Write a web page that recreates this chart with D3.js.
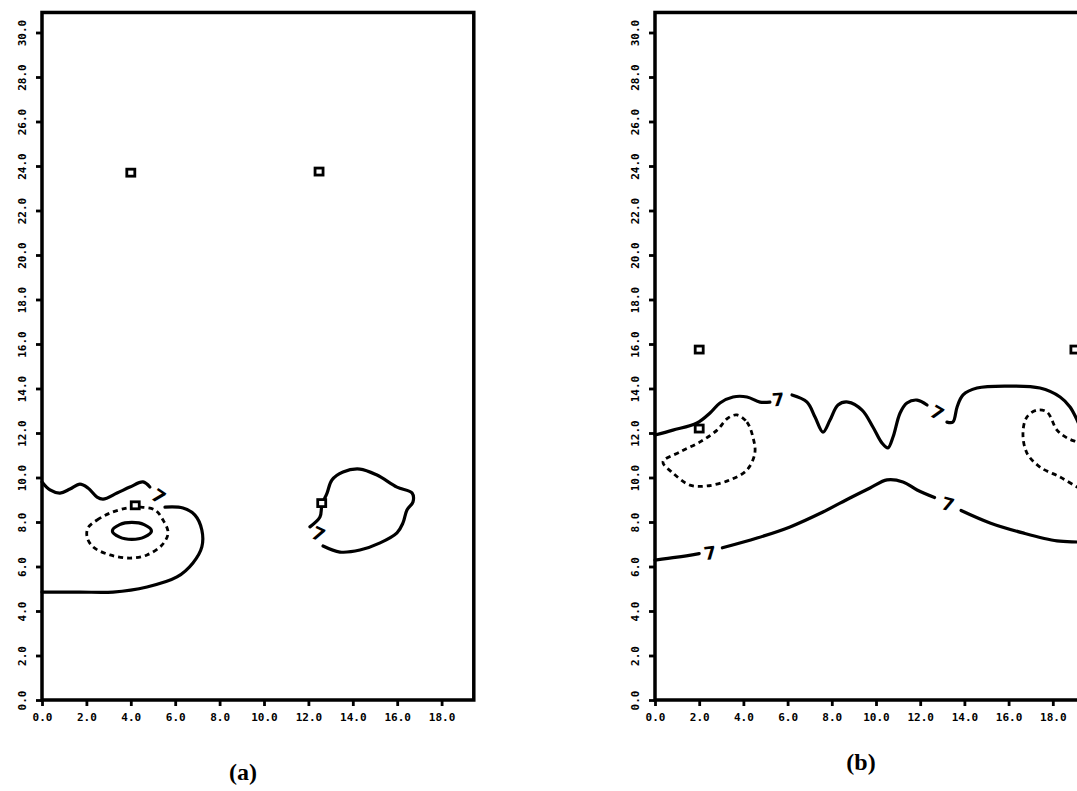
<!DOCTYPE html>
<html>
<head>
<meta charset="utf-8">
<script src="https://cdn.jsdelivr.net/npm/d3@7"></script>
<style>
  body { margin: 0; background: #fff; }
  .tick text { font-family: "DejaVu Sans Mono", monospace; font-weight: bold; font-size: 11px; }
</style>
</head>
<body>
<script>
// axis ticks (both panels)
var xTicks = [0, 2, 4, 6, 8, 10, 12, 14, 16, 18];
var yTicks = [0, 2, 4, 6, 8, 10, 12, 14, 16, 18, 20, 22, 24, 26, 28, 30];

// panel (a) contours
var aSolidOuter = [[0, 9.8], [0.36, 9.44], [0.81, 9.3], [1.26, 9.48], [1.71, 9.7], [2.07, 9.53], [2.48, 9.12],
  [2.75, 9.03], [3.38, 9.3], [3.96, 9.57], [4.55, 9.8], [4.86, 9.57]];
var aSolidOuter2 = [[5.54, 8.67], [6.35, 8.63], [6.89, 8.31], [7.2, 7.64], [7.2, 6.88], [6.8, 6.16],
  [6.08, 5.53], [4.73, 5.08], [3.2, 4.85], [1.71, 4.85], [0, 4.85]];
var aDashed = [[2.07, 7.73], [2.48, 8.09], [3.06, 8.4], [3.83, 8.63], [4.41, 8.67], [5.09, 8.54], [5.45, 8.09],
  [5.68, 7.51], [5.41, 6.97], [4.73, 6.52], [3.96, 6.38], [3.06, 6.52], [2.3, 6.88], [2.03, 7.33]];
var aInner = [[3.17, 7.6], [3.5, 7.88], [4.05, 7.98], [4.6, 7.88], [4.93, 7.6], [4.6, 7.32], [4.05, 7.22], [3.5, 7.32]];
var aRight = [[12.07, 7.78], [12.52, 8.22], [12.61, 8.76], [12.84, 9.3], [13.06, 9.89], [13.56, 10.25], [14.32, 10.38],
  [15.09, 10.11], [15.99, 9.57], [16.67, 9.3], [16.71, 8.9], [16.44, 8.54], [16.26, 7.96], [15.99, 7.51],
  [15.23, 7.06], [14.32, 6.74], [13.42, 6.65], [12.66, 6.92]];
var aMarkers = [[4.0, 23.7], [12.48, 23.75], [4.2, 8.75], [12.6, 8.85]];
var aLabels = [[5.25, 9.15, 35], [12.45, 7.45, 25]];

// panel (b) contours
var bUpper1 = [[0, 11.91], [0.81, 12.13], [1.9, 12.45], [2.49, 12.9], [2.94, 13.35], [3.53, 13.62], [4.16, 13.62],
  [4.75, 13.39], [5.2, 13.39]];
var bUpper2 = [[6.2, 13.71], [6.88, 13.39], [7.24, 12.72], [7.6, 12.04], [7.92, 12.58], [8.28, 13.26], [8.73, 13.39],
  [9.37, 13.03], [9.86, 12.27], [10.27, 11.55], [10.54, 11.33], [10.77, 11.82], [11.09, 12.9], [11.4, 13.35],
  [11.86, 13.48], [12.31, 13.26]];
var bUpper3 = [[13.21, 12.49], [13.48, 12.49], [13.67, 13.17], [13.94, 13.71], [14.57, 14.02], [15.93, 14.11],
  [17.42, 14.02], [18.33, 13.62], [18.78, 13.17], [19.1, 12.58], [19.3, 12.1]];
var bDashLeft = [[3.71, 12.81], [4.16, 12.49], [4.43, 11.82], [4.52, 11.1], [4.16, 10.34], [3.39, 9.89], [2.35, 9.62],
  [1.58, 9.66], [0.81, 10.2], [0.36, 10.7], [1.13, 11.15], [2.04, 11.6], [2.81, 12.13], [3.3, 12.67]];
var bDashRight = [[19.4, 11.5], [19.1, 11.6], [18.64, 11.78], [18.19, 12.13], [17.74, 12.94], [17.29, 13.03], [16.83, 12.72],
  [16.65, 12.0], [16.83, 11.1], [17.42, 10.47], [18.33, 10.02], [19.1, 9.57], [19.4, 9.4]];
var bLower1 = [[0, 6.29], [1.0, 6.42], [2.0, 6.58]];
var bLower2 = [[3.05, 6.84], [4.62, 7.28], [6.11, 7.78], [7.6, 8.45], [8.82, 9.08], [9.73, 9.53], [10.5, 9.89],
  [11.22, 9.8], [11.86, 9.44], [12.65, 9.1]];
var bLower3 = [[13.85, 8.52], [15.16, 7.96], [16.65, 7.51], [18.19, 7.15], [19.1, 7.1], [19.4, 7.08]];
var bMarkers = [[2.0, 15.75], [19.0, 15.75], [2.0, 12.2]];
var bLabels = [[5.57, 13.5, -5], [12.76, 12.9, 30], [13.26, 8.8, 15], [2.49, 6.6, -8]];

var width = 1077, height = 791;
var svg = d3.select("body").append("svg")
  .attr("width", width)
  .attr("height", height);

function drawPanel(left, pxPerUnit, caption, capX, capY, solids, closedSolids, dashes, closedDashes, markers, labels) {
  var x = d3.scaleLinear().domain([0, 19.45]).range([left, left + 19.45 * pxPerUnit]);
  var y = d3.scaleLinear().domain([0, 30.9]).range([700, 700 - 30.9 * 22.25]);
  var g = svg.append("g");

  var open = d3.line().x(d => x(d[0])).y(d => y(d[1])).curve(d3.curveCatmullRom);
  var closed = d3.line().x(d => x(d[0])).y(d => y(d[1])).curve(d3.curveCatmullRomClosed);

  solids.forEach(function(s) {
    g.append("path").attr("d", open(s)).attr("fill", "none").attr("stroke", "#000")
      .attr("stroke-width", 3.2).attr("stroke-linecap", "round");
  });
  closedSolids.forEach(function(s) {
    g.append("path").attr("d", closed(s)).attr("fill", "none").attr("stroke", "#000").attr("stroke-width", 3.2);
  });
  dashes.forEach(function(s) {
    g.append("path").attr("d", open(s)).attr("fill", "none").attr("stroke", "#000")
      .attr("stroke-width", 2.8).attr("stroke-dasharray", "5,4");
  });
  closedDashes.forEach(function(s) {
    g.append("path").attr("d", closed(s)).attr("fill", "none").attr("stroke", "#000")
      .attr("stroke-width", 2.8).attr("stroke-dasharray", "5,4");
  });

  g.selectAll(".marker").data(markers).enter().append("rect")
    .attr("x", d => x(d[0]) - 4).attr("y", d => y(d[1]) - 3.5)
    .attr("width", 8).attr("height", 7)
    .attr("fill", "#fff").attr("stroke", "#000").attr("stroke-width", 2.8);

  g.selectAll(".clabel").data(labels).enter().append("text")
    .attr("transform", d => "translate(" + x(d[0]) + "," + y(d[1]) + ") rotate(" + d[2] + ")")
    .attr("text-anchor", "middle").attr("dy", "0.35em")
    .style("font-family", "DejaVu Sans, sans-serif").style("font-weight", "bold").style("font-size", "18px")
    .text("7");

  // frame
  g.append("rect")
    .attr("x", x(0)).attr("y", y(30.9))
    .attr("width", x(19.45) - x(0)).attr("height", y(0) - y(30.9))
    .attr("fill", "none").attr("stroke", "#000").attr("stroke-width", 3.5);

  var xAxis = g.append("g").attr("transform", "translate(0," + y(0) + ")")
    .call(d3.axisBottom(x).tickValues(xTicks).tickFormat(d3.format(".1f")).tickSize(6).tickPadding(7));
  var yAxis = g.append("g").attr("transform", "translate(" + x(0) + ",0)")
    .call(d3.axisLeft(y).tickValues(yTicks).tickFormat(d3.format(".1f")).tickSize(6).tickPadding(7));
  [xAxis, yAxis].forEach(function(a) {
    a.select(".domain").remove();
    a.selectAll(".tick line").attr("stroke-width", 2.8);
  });
  yAxis.selectAll(".tick text")
    .attr("x", null).attr("dy", null)
    .attr("transform", "translate(-20,0) rotate(-90)")
    .attr("dy", "0.35em")
    .style("text-anchor", "middle");

  svg.append("text").attr("x", capX).attr("y", capY).attr("text-anchor", "middle")
    .style("font-family", "Liberation Serif, serif").style("font-weight", "bold").style("font-size", "24px")
    .text(caption);
}

drawPanel(42, 22.2, "(a)", 243, 780,
  [aSolidOuter, aSolidOuter2, aRight], [aInner], [], [aDashed], aMarkers, aLabels);
drawPanel(655, 22.1, "(b)", 861, 770,
  [bUpper1, bUpper2, bUpper3, bLower1, bLower2, bLower3], [], [bDashRight], [bDashLeft], bMarkers, bLabels);
</script>
</body>
</html>
